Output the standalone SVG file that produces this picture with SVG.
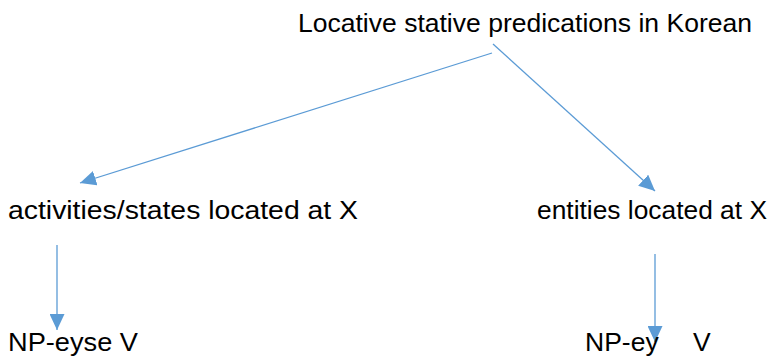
<svg xmlns="http://www.w3.org/2000/svg" width="772" height="358" viewBox="0 0 772 358">
<defs>
<style>
.t{font-family:"Liberation Sans",Arial,sans-serif;font-size:26.5px;fill:#000}
.c{stroke:#5B9BD5;stroke-width:1.3;fill:none}
</style>
<marker id="ah" markerUnits="userSpaceOnUse" markerWidth="17" markerHeight="15" refX="16" refY="7.5" orient="auto">
<path d="M0,0 L16,7.5 L0,15 Z" fill="#5B9BD5"/>
</marker>
</defs>
<rect width="772" height="358" fill="#fff"/>
<g id="connectors">
<line class="c" x1="492" y1="53" x2="80" y2="183" marker-end="url(#ah)"/>
<line class="c" x1="493" y1="44" x2="655" y2="191" marker-end="url(#ah)"/>
<line class="c" x1="57" y1="245" x2="57" y2="330" marker-end="url(#ah)"/>
<line class="c" x1="655" y1="254" x2="655" y2="342" marker-end="url(#ah)"/>
</g>
<g id="root"><text class="t" x="298" y="32" textLength="454" lengthAdjust="spacingAndGlyphs">Locative stative predications in Korean</text></g>
<g id="activities"><text class="t" x="8" y="219" textLength="350" lengthAdjust="spacingAndGlyphs">activities/states located at X</text></g>
<g id="entities"><text class="t" x="537" y="219" textLength="230" lengthAdjust="spacingAndGlyphs">entities located at X</text></g>
<g id="eyse"><text class="t" x="8" y="351" textLength="130" lengthAdjust="spacingAndGlyphs">NP-eyse V</text></g>
<g id="ey"><text class="t" x="585" y="351">NP-ey<tspan x="693">V</tspan></text></g>
</svg>
